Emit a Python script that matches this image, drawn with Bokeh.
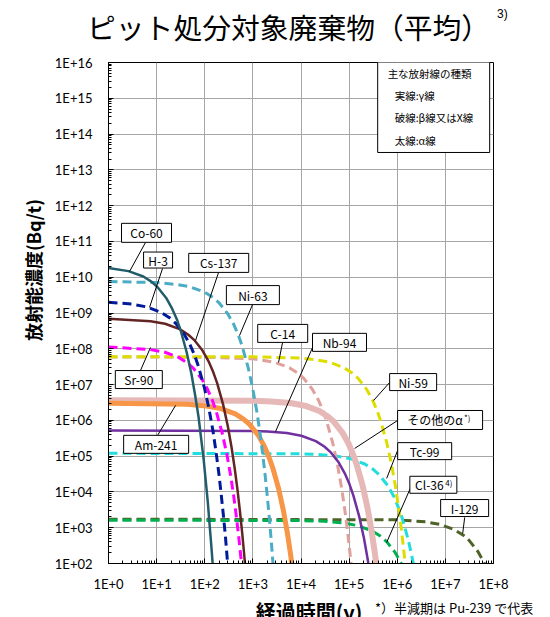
import numpy as np
from bokeh.plotting import figure
from bokeh.layouts import column, row
from bokeh.models import FixedTicker, CustomJSTickFormatter, Range1d, ColumnDataSource, Div
from bokeh.core.properties import value
from bokeh.embed import file_html
from bokeh.resources import INLINE

# ---------------- data ----------------
x_tick_labels = ["1E+0", "1E+1", "1E+2", "1E+3", "1E+4", "1E+5", "1E+6", "1E+7", "1E+8"]
y_tick_labels = ["1E+02", "1E+03", "1E+04", "1E+05", "1E+06", "1E+07", "1E+08", "1E+09",
                 "1E+10", "1E+11", "1E+12", "1E+13", "1E+14", "1E+15", "1E+16"]

# time (y) and log10 of concentration (Bq/t)
co60_t = [1, 2.6, 5.3, 7.9, 10.5, 15.8, 21, 26.4, 31.6, 42, 52.7, 63, 74, 84, 95, 105, 116, 126, 137, 148, 158]
co60_lg = [10.26, 10.17, 10.02, 9.87, 9.72, 9.42, 9.12, 8.82, 8.51, 7.91, 7.31, 6.71, 6.11, 5.50, 4.90, 4.30, 3.70, 3.09, 2.49, 1.89, 1.29]

h3_t = [1, 3, 6.2, 12.3, 18.5, 24.6, 36.9, 49.2, 61.5, 73.8, 98.4, 123, 148, 172, 197, 221, 246, 271, 295, 320]
h3_lg = [9.30, 9.25, 9.17, 9.02, 8.87, 8.72, 8.42, 8.12, 7.82, 7.51, 6.91, 6.31, 5.71, 5.11, 4.50, 3.90, 3.30, 2.70, 2.09, 1.49]

cs137_t = [1, 7.5, 15, 30.1, 45, 60, 90, 120, 150, 181, 241, 301, 361, 421, 482, 542, 602, 662, 722]
cs137_lg = [8.84, 8.77, 8.70, 8.55, 8.40, 8.25, 7.95, 7.65, 7.35, 7.04, 6.44, 5.84, 5.24, 4.64, 4.03, 3.43, 2.83, 2.23, 1.62]

ni63_t = [1, 10, 25, 50, 100, 150, 200, 300, 400, 500, 600, 800, 1000, 1200, 1400, 1600, 1800, 2000, 2200, 2400, 2600, 2800]
ni63_lg = [9.88, 9.85, 9.80, 9.73, 9.58, 9.43, 9.28, 8.98, 8.68, 8.38, 8.07, 7.47, 6.87, 6.27, 5.67, 5.06, 4.46, 3.86, 3.26, 2.66, 2.05, 1.45]

sr90_t = [1, 7.2, 14.4, 28.8, 43.2, 57.6, 86.4, 115, 144, 173, 230, 288, 346, 403, 461, 518, 576, 634]
sr90_lg = [8.05, 7.98, 7.91, 7.76, 7.61, 7.46, 7.16, 6.86, 6.56, 6.25, 5.65, 5.05, 4.45, 3.85, 3.24, 2.64, 2.04, 1.44]

c14_t = [1, 100, 1000, 2865, 5730, 8600, 11460, 17190, 22920, 28650, 34380, 45840, 57300, 68760, 80220, 91680, 103140, 114600]
c14_lg = [7.77, 7.765, 7.72, 7.62, 7.47, 7.32, 7.17, 6.87, 6.57, 6.27, 5.96, 5.36, 4.76, 4.16, 3.56, 2.95, 2.35, 1.75]

ni59_t = [1, 1000, 10000, 19000, 38000, 76000, 114000, 152000, 228000, 304000, 380000, 456000, 608000, 760000, 912000, 1064000, 1216000, 1368000, 1520000]
ni59_lg = [7.78, 7.776, 7.74, 7.70, 7.63, 7.48, 7.33, 7.18, 6.88, 6.58, 6.28, 5.97, 5.37, 4.77, 4.17, 3.57, 2.96, 2.36, 1.76]

nb94_t = [1, 1000, 2030, 5075, 10150, 20300, 30450, 40600, 60900, 81200, 101500, 121800, 162400, 203000, 243600, 284200]
nb94_lg = [5.72, 5.705, 5.69, 5.645, 5.57, 5.42, 5.27, 5.12, 4.82, 4.52, 4.22, 3.91, 3.31, 2.71, 2.11, 1.51]

am241_t = [1, 43, 108, 216, 432, 648, 864, 1297, 1729, 2161, 2593, 3458, 4322, 5186, 6051, 6915]
am241_lg = [6.48, 6.45, 6.40, 6.33, 6.18, 6.03, 5.88, 5.58, 5.28, 4.97, 4.67, 4.07, 3.47, 2.87, 2.27, 1.66]

alpha_t = [1, 1000, 2411, 6028, 12055, 24110, 36165, 48220, 72330, 96440, 120550, 144660, 192880, 241100, 289320, 337540, 385760]
alpha_lg = [6.56, 6.548, 6.53, 6.485, 6.41, 6.26, 6.11, 5.96, 5.66, 5.36, 5.05, 4.75, 4.15, 3.55, 2.95, 2.35, 1.74]

tc99_t = [1, 10000, 21100, 52750, 105500, 211000, 316500, 422000, 633000, 844000, 1055000, 1266000, 1688000, 2110000, 2532000]
tc99_lg = [5.08, 5.066, 5.05, 5.005, 4.93, 4.78, 4.63, 4.48, 4.18, 3.88, 3.57, 3.27, 2.67, 2.07, 1.47]

cl36_t = [1, 10000, 30100, 75250, 150500, 301000, 451500, 602000, 903000, 1204000, 1505000]
cl36_lg = [3.21, 3.20, 3.18, 3.135, 3.06, 2.91, 2.76, 2.61, 2.31, 2.01, 1.71]

i129_t = [1, 1e6, 3.9e6, 7.85e6, 1.57e7, 2.36e7, 3.14e7, 4.71e7, 6.28e7, 7.85e7, 9.42e7]
i129_lg = [3.24, 3.22, 3.165, 3.09, 2.94, 2.79, 2.64, 2.34, 2.04, 1.73, 1.43]

# callout names
label_names = ["Co-60", "H-3", "Cs-137", "Ni-63", "C-14", "Nb-94", "Sr-90", "Am-241",
               "Ni-59", "その他のα", "Tc-99", "Cl-36", "I-129"]

# ---------------- styles ----------------
series = [
    (i129_t, i129_lg, "#4F6228", 3, "9 5"),
    (cl36_t, cl36_lg, "#00B050", 3, "9 5"),
    (tc99_t, tc99_lg, "#22DDDD", 3, "9 5"),
    (c14_t, c14_lg, "#E0A09C", 3, "9 5"),
    (ni59_t, ni59_lg, "#DDDD00", 3, "9 5"),
    (nb94_t, nb94_lg, "#7030A0", 2.5, None),
    (alpha_t, alpha_lg, "#E6B9B8", 6, None),
    (am241_t, am241_lg, "#F79646", 5, None),
    (ni63_t, ni63_lg, "#4BACC6", 3, "9 5"),
    (sr90_t, sr90_lg, "#FF00FF", 3, "9 5"),
    (cs137_t, cs137_lg, "#632523", 2.5, None),
    (h3_t, h3_lg, "#001A99", 3, "9 5"),
    (co60_t, co60_lg, "#215D6B", 2.5, None),
]

JP = "Noto Sans CJK JP"
W = 550
TOP_H = 44
BOT_H = 17
LEFT_W = 50
MAIN_H = 617 - TOP_H - BOT_H

# ---- top block: title ----
top_html = (
    "<div style=\"position:relative;width:550px;height:44px;font-family:'Noto Sans CJK JP';color:black;\">"
    "<span style=\"position:absolute;left:87px;top:12px;font-size:28.8px;line-height:30px;white-space:nowrap;\">"
    "ピット処分対象廃棄物（平均）</span>"
    "<span style=\"position:absolute;left:497px;top:7px;font-size:12px;line-height:14px;"
    "font-family:'Liberation Sans';white-space:nowrap;\">3)</span>"
    "</div>")
top = Div(text=top_html, width=W, height=TOP_H, margin=(0, 0, 0, 0))

# ---- left block: y-axis title (rotated) ----
left_html = (
    "<div style=\"position:relative;width:50px;height:%dpx;font-family:'Noto Sans CJK JP';color:black;\">"
    "<span style=\"position:absolute;left:-67px;top:%dpx;width:200px;text-align:center;font-size:18px;"
    "line-height:22px;font-weight:bold;white-space:nowrap;transform:rotate(-90deg);"
    "transform-origin:50%% 50%%;\">放射能濃度(Bq/t)</span>"
    "</div>") % (MAIN_H, 270 - TOP_H - 11)
left = Div(text=left_html, width=LEFT_W, height=MAIN_H, margin=(0, 0, 0, 0))

# ---- bottom block: x-axis title and footnote ----
bot_html = (
    "<div style=\"position:relative;width:550px;height:17px;font-family:'Noto Sans CJK JP';color:black;\">"
    "<span style=\"position:absolute;left:209px;width:200px;text-align:center;top:1px;font-size:20px;"
    "line-height:22px;font-weight:bold;white-space:nowrap;\">経過時間(y)</span>"
    "<span style=\"position:absolute;left:375px;top:0px;font-size:13px;line-height:15px;"
    "white-space:nowrap;\">*）半減期は Pu-239 で代表</span>"
    "</div>")
bot = Div(text=bot_html, width=W, height=BOT_H, margin=(0, 0, 0, 0))

# ---- main plot ----
p = figure(width=W - LEFT_W, height=MAIN_H, x_axis_type="log", y_axis_type="log",
           x_range=Range1d(1, 1e8), y_range=Range1d(1e2, 1e16),
           output_backend="svg", toolbar_location=None,
           min_border_left=108 - LEFT_W, min_border_right=57, min_border_top=62 - TOP_H,
           min_border_bottom=MAIN_H + TOP_H - 563, margin=(0, 0, 0, 0))
p.title.visible = False
p.background_fill_color = "white"
p.border_fill_color = "white"
p.outline_line_color = "black"
p.outline_line_width = 1
p.outline_line_alpha = 1

x_major = [10.0 ** i for i in range(0, 9)]
x_minor = [m * 10.0 ** i for i in range(0, 8) for m in range(2, 10)]
y_major = [10.0 ** i for i in range(2, 17)]
y_minor = [m * 10.0 ** i for i in range(2, 16) for m in range(2, 10)]
xt = FixedTicker(ticks=x_major, minor_ticks=x_minor)
yt = FixedTicker(ticks=y_major, minor_ticks=y_minor)
p.xaxis.ticker = xt
p.yaxis.ticker = yt
p.xgrid.ticker = xt
p.ygrid.ticker = yt
p.xaxis.formatter = CustomJSTickFormatter(args=dict(labels=x_tick_labels),
                                          code="return labels[Math.round(Math.log10(tick))];")
p.yaxis.formatter = CustomJSTickFormatter(args=dict(labels=y_tick_labels),
                                          code="return labels[Math.round(Math.log10(tick)) - 2];")
for ax in (p.xaxis, p.yaxis):
    ax.axis_line_color = "black"
    ax.major_tick_line_color = "black"
    ax.minor_tick_line_color = "black"
    ax.major_tick_in = 5
    ax.major_tick_out = 0
    ax.minor_tick_in = 3
    ax.minor_tick_out = 0
    ax.major_label_text_font = "Lato"
    ax.major_label_text_font_size = "13px"
    ax.major_label_text_color = "black"
p.yaxis.major_label_standoff = 16
p.xaxis.major_label_standoff = 12
for g in (p.xgrid, p.ygrid):
    g.grid_line_color = "#A6A6A6"
    g.grid_line_width = 1

for t, lg, col, w, dash in series:
    kw = dict(line_color=col, line_width=w)
    if dash:
        kw["line_dash"] = dash
    p.line(t, 10.0 ** np.array(lg), **kw)

# callout boxes (log10 coordinates of the box centre, box size in px)
lab_x = [0.79, 1.03, 2.29, 3.00, 3.62, 4.80, 0.63, 0.99, 6.33, 6.89, 6.57, 6.75, 7.40]
lab_y = [11.24, 10.48, 10.40, 9.50, 8.43, 8.18, 7.14, 5.33, 7.07, 6.01, 5.14, 4.20, 3.55]
lab_w = [50, 29, 60, 53, 50, 54, 47, 65, 47, 85, 54, 47, 48]
lab_h = [19, 16, 19, 19, 18, 18, 18, 18, 17, 19, 17, 17, 17]
lab_dx = [0, 0, 0, 0, 0, 0, 0, 0, 0, -5, 0, -4, 0]

# leader lines (log10 coordinates)
ld_x0 = [0.769, 1.123, 2.287, 2.994, 3.617, 4.241, 0.665, 1.019, 5.842, 6.008, 6.008, 6.279, 7.401]
ld_y0 = [10.971, 10.244, 10.132, 9.238, 8.177, 8.037, 7.394, 5.578, 7.059, 5.997, 5.159, 4.125, 3.287]
ld_x1 = [0.437, 0.852, 1.809, 2.723, 3.534, 3.472, 0.873, 1.393, 5.509, 5.114, 5.780, 5.780, 7.360]
ld_y1 = [10.160, 9.155, 8.233, 8.372, 7.618, 5.690, 8.037, 6.416, 6.556, 5.215, 4.377, 2.589, 2.840]

p.segment(x0=10.0 ** np.array(ld_x0), y0=10.0 ** np.array(ld_y0),
          x1=10.0 ** np.array(ld_x1), y1=10.0 ** np.array(ld_y1),
          line_color="black", line_width=1)

src = ColumnDataSource(dict(x=10.0 ** np.array(lab_x), y=10.0 ** np.array(lab_y),
                            w=lab_w, h=lab_h, txt=label_names, dx=lab_dx))
p.rect(x="x", y="y", width="w", height="h", width_units="screen", height_units="screen",
       source=src, fill_color="white", line_color="black", line_width=1)
p.text(x="x", y="y", text="txt", x_offset="dx", source=src, text_align="center",
       text_baseline="middle", text_font=value(JP), text_font_size="12px",
       text_color="black")
# superscripts in callouts
p.text(x=[10 ** 6.89, 10 ** 6.75], y=[10 ** 6.01, 10 ** 4.20], text=["*)", "4)"],
       x_offset=[24, 12], y_offset=[-2, -2], text_align="left", text_baseline="middle",
       text_font=value(JP), text_font_size="8px", text_color="black")

# legend box for line types
p.rect(x=[10 ** 6.757], y=[10 ** 14.757], width=112, height=91, width_units="screen",
       height_units="screen", fill_color="white", line_color="black", line_width=1)
leg_texts = ["主な放射線の種類", "実線:γ線", "破線:β線又はX線", "太線:α線"]
leg_x = [5.80, 5.946, 5.946, 5.946]
leg_y = [15.693, 15.078, 14.463, 13.821]
p.text(x=10.0 ** np.array(leg_x), y=10.0 ** np.array(leg_y), text=leg_texts,
       text_align="left", text_baseline="middle", text_font=value(JP),
       text_font_size="10.5px", text_color="black")

layout = column(top, row(left, p, spacing=0), bot, spacing=0)
open("out.html", "w").write(file_html(layout, INLINE))
